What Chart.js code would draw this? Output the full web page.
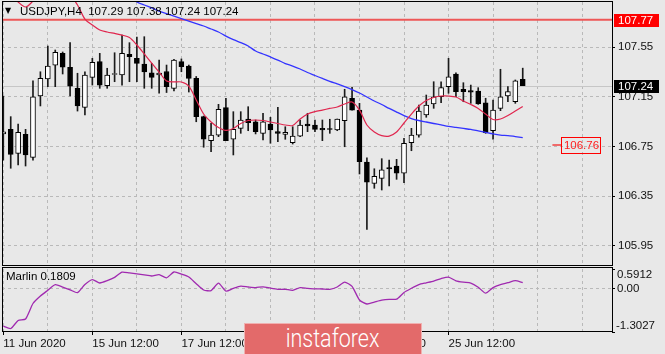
<!DOCTYPE html>
<html><head><meta charset="utf-8">
<script src="https://cdn.jsdelivr.net/npm/chart.js@4.4.1/dist/chart.umd.min.js"></script>
<style>
html,body{margin:0;padding:0;background:#e8e8e8;}
#wrap{position:relative;width:665px;height:354px;overflow:hidden;background:#e8e8e8;font-family:'Liberation Sans',Arial,sans-serif;}
canvas{position:absolute;left:0;}
#c1{top:0;}
#c2{top:266px;}
.t{position:absolute;font-size:11.5px;color:#000;white-space:pre;line-height:13px;}
#tri{position:absolute;left:5px;top:6px;font-family:'DejaVu Sans';font-size:8px;line-height:10px;color:#000;}
#wm{position:absolute;left:244px;top:323px;width:176px;height:31px;background:#e36a6a;border:1px solid #f0b0b0;border-bottom:none;text-align:center;color:#fff;}
#wm span{display:inline-block;font-family:Roboto,'Open Sans',sans-serif;font-weight:300;font-size:25px;line-height:30px;transform:scaleX(0.86);}
</style></head>
<body>
<div id="wrap">
<canvas id="c1" width="665" height="266"></canvas>
<canvas id="c2" width="665" height="88"></canvas>
<div id="tri">&#9660;</div>
<div class="t" style="left:20px;top:5px;">USDJPY,H4  107.29 107.38 107.24 107.24</div>
<div class="t" style="left:6px;top:270px;">Marlin 0.1809</div>
<div id="wm"><span>instaforex</span></div>
</div>
<script>
// ---------------- data ----------------
const categories = [
"11 Jun 12:00","11 Jun 16:00","11 Jun 20:00",
"12 Jun 00:00","12 Jun 04:00","12 Jun 08:00","12 Jun 12:00","12 Jun 16:00","12 Jun 20:00",
"15 Jun 00:00","15 Jun 04:00","15 Jun 08:00","15 Jun 12:00","15 Jun 16:00","15 Jun 20:00",
"16 Jun 00:00","16 Jun 04:00","16 Jun 08:00","16 Jun 12:00","16 Jun 16:00","16 Jun 20:00",
"17 Jun 00:00","17 Jun 04:00","17 Jun 08:00","17 Jun 12:00","17 Jun 16:00","17 Jun 20:00",
"18 Jun 00:00","18 Jun 04:00","18 Jun 08:00","18 Jun 12:00","18 Jun 16:00","18 Jun 20:00",
"19 Jun 00:00","19 Jun 04:00","19 Jun 08:00","19 Jun 12:00","19 Jun 16:00","19 Jun 20:00",
"22 Jun 00:00","22 Jun 04:00","22 Jun 08:00","22 Jun 12:00","22 Jun 16:00","22 Jun 20:00",
"23 Jun 00:00","23 Jun 04:00","23 Jun 08:00","23 Jun 12:00","23 Jun 16:00","23 Jun 20:00",
"24 Jun 00:00","24 Jun 04:00","24 Jun 08:00","24 Jun 12:00","24 Jun 16:00","24 Jun 20:00",
"25 Jun 00:00","25 Jun 04:00","25 Jun 08:00","25 Jun 12:00","25 Jun 16:00","25 Jun 20:00",
"26 Jun 00:00","26 Jun 04:00","26 Jun 08:00","26 Jun 12:00","26 Jun 16:00","26 Jun 20:00",
"29 Jun 00:00","29 Jun 04:00"];
const firstDateLabel = "11 Jun 2020";

const open = [106.851,106.888,106.695,106.848,106.663,107.156,107.293,107.405,107.499,107.387,
107.218,107.065,107.306,107.432,107.239,107.329,107.325,107.491,107.459,107.413,
107.343,107.325,107.353,107.218,107.432,107.397,107.298,106.990,106.797,106.842,
107.062,106.808,106.896,106.971,106.949,106.856,106.931,106.869,106.848,106.781,
106.834,106.931,106.923,106.896,106.895,106.883,106.957,107.138,107.043,106.624,
106.454,106.494,106.581,106.593,106.535,106.781,106.842,107.003,107.092,107.150,
107.231,107.333,107.210,107.199,107.196,107.102,106.877,107.057,107.156,107.110,107.290];
const high = [107.156,106.990,106.931,106.888,107.279,107.351,107.558,107.526,107.510,107.585,
107.339,107.351,107.459,107.499,107.379,107.504,107.646,107.585,107.630,107.633,
107.419,107.445,107.405,107.451,107.454,107.405,107.313,106.995,106.937,107.089,
107.138,107.030,107.030,107.070,106.963,107.017,106.985,107.065,106.909,106.909,
106.963,107.017,106.963,106.963,106.969,106.971,107.210,107.226,107.097,106.658,
106.571,106.652,106.641,106.647,106.816,106.896,107.084,107.164,107.271,107.271,
107.459,107.343,107.263,107.244,107.223,107.138,107.124,107.371,107.231,107.285,107.380];
const low = [106.641,106.575,106.601,106.593,106.641,107.076,107.231,107.231,107.333,107.156,
107.035,107.003,107.244,107.218,107.218,107.271,107.244,107.271,107.271,107.218,
107.218,107.178,107.184,107.196,107.351,107.188,106.949,106.744,106.708,106.829,
106.797,106.682,106.856,106.877,106.851,106.802,106.776,106.789,106.808,106.770,
106.829,106.869,106.869,106.797,106.856,106.877,106.748,107.043,106.529,106.083,
106.414,106.400,106.432,106.486,106.459,106.716,106.824,106.985,107.057,107.102,
107.178,107.150,107.110,107.097,107.089,106.856,106.808,107.038,107.110,107.097,107.240];
const close = [106.867,106.687,106.864,106.682,107.150,107.298,107.397,107.507,107.387,107.236,
107.076,107.325,107.427,107.244,107.325,107.333,107.499,107.472,107.419,107.349,
107.306,107.341,107.232,107.445,107.392,107.298,106.990,106.808,106.842,107.049,
106.797,106.888,106.963,106.941,106.869,106.949,106.883,106.856,106.864,106.834,
106.923,106.915,106.888,106.883,106.887,106.971,107.150,107.043,106.628,106.463,
106.510,106.563,106.569,106.535,106.776,106.842,107.035,107.084,107.150,107.223,
107.311,107.191,107.191,107.186,107.092,106.861,107.043,107.150,107.191,107.279,107.240];

// fast moving average (red)
const maFast = [108.089,107.968,107.912,107.872,107.920,107.992,108.024,108.048,108.024,107.968,
107.888,107.775,107.727,107.687,107.671,107.659,107.646,107.626,107.566,107.494,
107.421,107.349,107.277,107.269,107.269,107.236,107.124,107.011,106.947,106.903,
106.879,106.895,106.935,106.959,106.963,106.959,106.947,106.935,106.923,106.919,
106.971,107.011,107.031,107.043,107.056,107.068,107.092,107.108,107.043,106.923,
106.867,106.838,106.834,106.867,106.939,107.011,107.076,107.120,107.144,107.156,
107.156,107.148,107.116,107.088,107.056,107.011,106.967,106.971,106.999,107.035,107.072];
// slow moving average (blue)
const maSlow = [null,null,null,null,null,null,null,null,null,null,
null,null,108.081,108.057,108.032,108.008,107.984,107.956,107.912,107.888,
107.864,107.839,107.819,107.799,107.779,107.759,107.739,107.719,107.695,107.671,
107.638,107.610,107.586,107.558,107.518,107.494,107.470,107.445,107.417,107.397,
107.373,107.345,107.321,107.297,107.273,107.253,107.232,107.208,107.180,107.148,
107.116,107.088,107.056,107.027,106.999,106.975,106.959,106.947,106.935,106.923,
106.911,106.903,106.895,106.887,106.875,106.863,106.851,106.842,106.838,106.830,106.822];
// Marlin oscillator
const marlin = [-1.129,-1.198,-0.957,-0.912,-0.446,-0.221,-0.049,0.119,0.047,-0.034,
-0.121,0.125,0.272,0.170,0.239,0.339,0.498,0.474,0.447,0.414,
0.381,0.420,0.327,0.501,0.435,0.351,0.149,-0.040,-0.058,0.164,
-0.076,0.008,0.074,0.050,0.032,0.056,0.014,-0.019,-0.019,-0.049,
0.029,0.011,-0.004,-0.010,-0.019,0.050,0.197,0.068,-0.341,-0.461,
-0.404,-0.347,-0.320,-0.317,-0.115,0.011,0.122,0.176,0.230,0.305,
0.348,0.236,0.194,0.170,0.044,-0.137,0.032,0.125,0.179,0.242,0.181];

const priceTicks = [105.95, 106.35, 106.75, 107.15, 107.55];
const priceMin = 105.797, priceMax = 107.912;
const levelPrice = 107.77;     // horizontal level line
const lastPrice = 107.24;      // current bid
const note = {bar: 74, price: 106.76, text: "106.76"};
const oscMin = -1.3027, oscMax = 0.5912;
const oscTickLabels = ["0.5912", "0.00", "-1.3027"];
const viewStart = -0.175, viewEnd = 82.03;
const barsPerGrid = 6, barsPerLabel = 12;

// ---------------- styling ----------------
const GRID = '#b9b9b9';
const FONT = {family: "'Liberation Sans', Arial, sans-serif", size: 11.5};
const gridTicks = [];
for (let v = 0; v <= viewEnd; v += barsPerGrid) gridTicks.push(v);

function frame(ctx, l, t, r, b) {
  ctx.save(); ctx.strokeStyle = '#000'; ctx.lineWidth = 1;
  ctx.strokeRect(Math.round(l) + 0.5, Math.round(t) + 0.5, Math.round(r - l) - 1 + 1, Math.round(b - t) - 1);
  ctx.restore();
}
function fixAxis(w, h) {
  return (s) => {
    if (w !== null) s.width = w;
    if (h !== null) s.height = h;
    s.paddingTop = 0; s.paddingBottom = 0; s.paddingLeft = 0; s.paddingRight = 0;
  };
}

const mainDecor = {
  id: 'mainDecor',
  beforeDatasetsDraw(chart) {
    const {ctx, chartArea: a, scales: {y}} = chart;
    ctx.save();
    let py = Math.round(y.getPixelForValue(lastPrice)) + 0.5;
    ctx.strokeStyle = '#c6c6c6'; ctx.lineWidth = 1;
    ctx.beginPath(); ctx.moveTo(a.left, py); ctx.lineTo(a.right, py); ctx.stroke();
    py = y.getPixelForValue(levelPrice);
    ctx.strokeStyle = '#ee5757'; ctx.lineWidth = 2;
    ctx.beginPath(); ctx.moveTo(a.left, py); ctx.lineTo(a.right, py); ctx.stroke();
    ctx.restore();
  },
  afterDatasetsDraw(chart) {
    const {ctx, scales: {x, y}} = chart;
    const px = x.getPixelForValue(note.bar), py = Math.round(y.getPixelForValue(note.price));
    ctx.save();
    ctx.strokeStyle = '#f06a6a'; ctx.lineWidth = 2;
    ctx.beginPath(); ctx.moveTo(px, py); ctx.lineTo(px + 9, py); ctx.stroke();
    ctx.font = "11.5px 'Liberation Sans', Arial, sans-serif";
    const w = ctx.measureText(note.text).width + 4;
    ctx.strokeStyle = '#ff0000'; ctx.lineWidth = 1;
    ctx.strokeRect(Math.round(px + 9) + 0.5, py - 7.5, Math.round(w), 16);
    ctx.fillStyle = '#ff2020'; ctx.textBaseline = 'middle'; ctx.textAlign = 'left';
    ctx.fillText(note.text, px + 11.5, py + 0.5);
    ctx.restore();
  },
  afterDraw(chart) {
    const {ctx, chartArea: a, scales: {y}} = chart;
    frame(ctx, a.left, a.top - 1, a.right, a.bottom + 1);
    ctx.save();
    ctx.font = "11.5px 'Liberation Sans', Arial, sans-serif";
    ctx.textBaseline = 'middle'; ctx.textAlign = 'left';
    [[levelPrice, '#ff0000'], [lastPrice, '#000000']].forEach(([v, bg]) => {
      const py = Math.round(y.getPixelForValue(v));
      ctx.fillStyle = bg; ctx.fillRect(a.right + 2, py - 6, 45, 13);
      ctx.fillStyle = '#fff'; ctx.fillText(v.toFixed(2), a.right + 6, py + 0.5);
    });
    ctx.restore();
  }
};

const oscDecor = {
  id: 'oscDecor',
  afterDraw(chart) {
    const {ctx, chartArea: a, scales: {y}} = chart;
    frame(ctx, a.left, a.top - 2, a.right, a.bottom);
    ctx.save();
    ctx.font = "11.5px 'Liberation Sans', Arial, sans-serif";
    ctx.fillStyle = '#111'; ctx.textAlign = 'left';
    ctx.textBaseline = 'top'; ctx.fillText(oscTickLabels[0], a.right + 5, y.getPixelForValue(oscMax));
    ctx.textBaseline = 'middle'; ctx.fillText(oscTickLabels[1], a.right + 5, y.getPixelForValue(0) + 0.5);
    ctx.textBaseline = 'bottom'; ctx.fillText(oscTickLabels[2], a.right + 4, y.getPixelForValue(oscMin));
    ctx.restore();
  }
};

const wickData = categories.map((c, i) => ({x: i, y: [low[i], high[i]]}));
const bodyData = categories.map((c, i) => ({x: i, y: [open[i], close[i]]}));
const bodyFill = categories.map((c, i) => close[i] > open[i] ? '#ffffff' : '#000000');
const fastData = categories.map((c, i) => ({x: i, y: maFast[i]}));
const slowData = categories.map((c, i) => ({x: i, y: maSlow[i]}));
const marlinData = categories.map((c, i) => ({x: i, y: marlin[i]}));

const common = {
  responsive: false, animation: false, events: [],
  plugins: {legend: {display: false}, tooltip: {enabled: false}},
};

new Chart(document.getElementById('c1'), {
  type: 'bar',
  data: {datasets: [
    {type: 'line', data: fastData, borderColor: '#e0264e', borderWidth: 1.2, pointRadius: 0, tension: 0.3, order: 1},
    {type: 'line', data: slowData, borderColor: '#3434ff', borderWidth: 1.3, pointRadius: 0, tension: 0.3, order: 2},
    {data: bodyData, backgroundColor: bodyFill, borderColor: '#000', borderWidth: 1, borderSkipped: false,
     barThickness: 5, maxBarThickness: 5, minBarLength: 1, grouped: false, order: 3},
    {data: wickData, backgroundColor: '#1a1a1a', borderWidth: 0, barThickness: 1, maxBarThickness: 1,
     grouped: false, order: 4}
  ]},
  options: Object.assign({}, common, {
    layout: {padding: {left: 2, top: 2, right: 0, bottom: 1}},
    scales: {
      x: {type: 'linear', min: viewStart, max: viewEnd, offset: false,
          afterBuildTicks: (s) => { s.ticks = gridTicks.map(v => ({value: v})); },
          afterFit: fixAxis(null, 0),
          ticks: {display: false}, border: {display: false, dash: [3, 3]},
          grid: {offset: false, color: GRID, drawTicks: false}},
      y: {position: 'right', min: priceMin, max: priceMax,
          afterBuildTicks: (s) => { s.ticks = priceTicks.map(v => ({value: v})); },
          afterFit: fixAxis(53, null),
          ticks: {font: FONT, color: '#111', padding: 3, callback: (v) => Number(v).toFixed(2)},
          border: {display: false, dash: [3, 3]},
          grid: {color: GRID, tickColor: '#000', tickLength: 3, tickBorderDash: []}}
    }
  }),
  plugins: [mainDecor]
});

new Chart(document.getElementById('c2'), {
  type: 'line',
  data: {datasets: [
    {data: marlinData, borderColor: '#a02ab0', borderWidth: 1.3, pointRadius: 0, tension: 0.2}
  ]},
  options: Object.assign({}, common, {
    layout: {padding: {left: 2, top: 3, right: 0, bottom: 0}},
    scales: {
      x: {type: 'linear', min: viewStart, max: viewEnd, offset: false,
          afterBuildTicks: (s) => { s.ticks = gridTicks.map(v => ({value: v})); },
          afterFit: fixAxis(null, 22),
          ticks: {font: FONT, color: '#111', padding: 2, align: 'start', maxRotation: 0, autoSkip: false,
                  callback: (v) => (v % barsPerLabel === 0 && categories[v]) ? (v === 0 ? firstDateLabel : categories[v]) : ''},
          border: {display: false, dash: [3, 3]},
          grid: {offset: false, color: GRID, tickLength: 3, tickBorderDash: [],
                 tickColor: (c) => (c.tick && c.tick.value % barsPerLabel === 0 && categories[c.tick.value]) ? '#000' : 'rgba(0,0,0,0)'}},
      y: {position: 'right', min: oscMin, max: oscMax,
          afterBuildTicks: (s) => { s.ticks = [{value: oscMin}, {value: 0}, {value: oscMax}]; },
          afterFit: fixAxis(53, null),
          ticks: {display: false},
          border: {display: false, dash: [3, 3]},
          grid: {color: (c) => (c.tick && c.tick.value === 0) ? GRID : 'rgba(0,0,0,0)', tickColor: '#000', tickLength: 3, tickBorderDash: []}}
    }
  }),
  plugins: [oscDecor]
});
</script>
</body></html>
